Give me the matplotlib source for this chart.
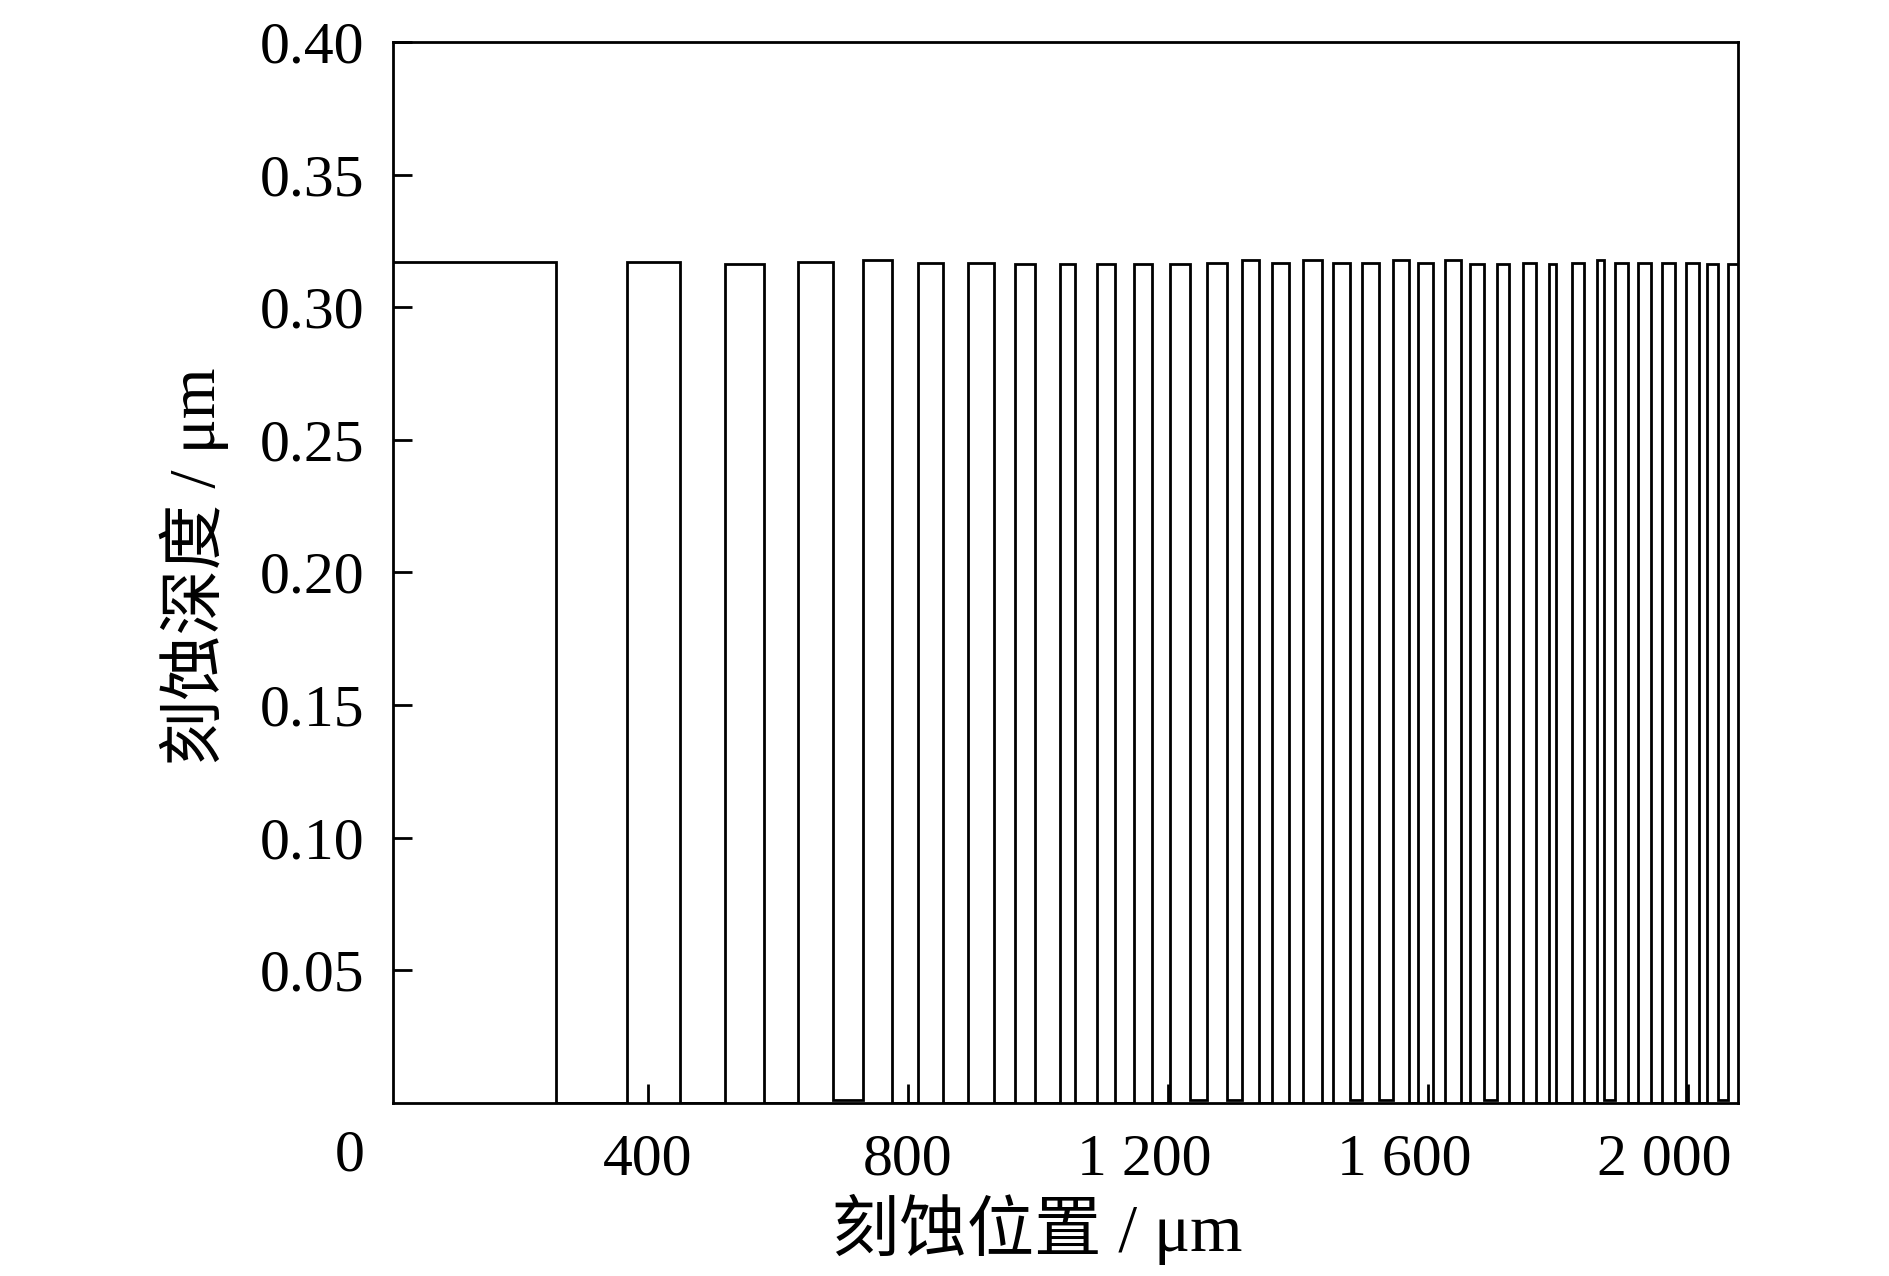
import numpy as np
import matplotlib
matplotlib.use('Agg')
import matplotlib.pyplot as plt
import matplotlib.transforms as mtransforms

plt.rcParams['font.family'] = ['Liberation Serif', 'Noto Sans CJK SC']
plt.rcParams['mathtext.fontset'] = 'stix'

# etched grooves: start / end position (um) and depth (um)
bar_start = [0, 368, 518, 631, 731, 816, 893, 964, 1034, 1090, 1147, 1203, 1260,
             1314, 1360, 1408, 1454, 1499, 1546, 1585, 1626, 1665, 1706, 1746,
             1786, 1822, 1860, 1888, 1923, 1960, 1996, 2029, 2062]
bar_end = [259, 450, 579, 684, 776, 854, 933, 996, 1057, 1119, 1176, 1233, 1291,
           1340, 1386, 1436, 1480, 1525, 1570, 1608, 1651, 1686, 1725, 1766,
           1797, 1840, 1870, 1908, 1943, 1979, 2016, 2046, 2095]
bar_depth = [0.317, 0.317, 0.3162, 0.317, 0.318, 0.3168, 0.3168, 0.3165, 0.3163,
             0.3163, 0.3163, 0.3165, 0.3168, 0.318, 0.3168, 0.318, 0.3168, 0.3168,
             0.318, 0.3168, 0.318, 0.3165, 0.3165, 0.3168, 0.3165, 0.3168, 0.318,
             0.3168, 0.3168, 0.3168, 0.3168, 0.3165, 0.3165]
# residual depth of the unetched ridge after each groove
gap_floor = [0, 0, 0, 0.0012, 0, 0, 0, 0, 0, 0, 0, 0.001, 0.001, 0, 0, 0, 0.001,
             0.001, 0, 0, 0, 0.001, 0, 0, 0, 0, 0.001, 0, 0, 0, 0, 0.001, 0]

xs = []
ys = []
prev_floor = bar_depth[0]
for i in range(len(bar_start)):
    xs += [bar_start[i], bar_start[i], bar_end[i], bar_end[i]]
    ys += [prev_floor, bar_depth[i], bar_depth[i], gap_floor[i]]
    prev_floor = gap_floor[i]

xticks = [400, 800, 1200, 1600, 2000]
xticklabels = ['400', '800', '1 200', '1 600', '2 000']
yticks = [0.05, 0.10, 0.15, 0.20, 0.25, 0.30, 0.35, 0.40]
yticklabels = ['0.05', '0.10', '0.15', '0.20', '0.25', '0.30', '0.35', '0.40']

fig = plt.figure(figsize=(18.9, 12.76), dpi=100)
ax = fig.add_axes([0.208, 0.1357, 0.7117, 0.8313])
ax.plot(xs, ys, color='black', lw=2.0, solid_joinstyle='miter')

ax.set_xlim(8, 2077)
ax.set_ylim(0, 0.40)
ax.set_xticks(xticks)
ax.set_xticklabels(xticklabels)
ax.set_yticks(yticks)
ax.set_yticklabels(yticklabels)
ax.tick_params(axis='both', direction='in', length=14, width=2.0, labelsize=43)
ax.tick_params(axis='x', pad=22)
ax.tick_params(axis='y', pad=21)
for s in ax.spines.values():
    s.set_linewidth(2.0)

# labels with a thousands space sit a little left of their tick in the original
shift = mtransforms.ScaledTranslation(-0.24, 0, fig.dpi_scale_trans)
for lab in ax.get_xticklabels():
    if ' ' in lab.get_text():
        lab.set_transform(lab.get_transform() + shift)

ax.text(-0.0326, -0.0506, '0', transform=ax.transAxes, fontsize=43,
        ha='center', va='center')

ax.set_xlabel('刻蚀位置 / μm', fontsize=48.5, va='center')
ax.xaxis.set_label_coords(0.479, -0.119)
ax.set_ylabel('刻蚀深度 / μm', fontsize=47, va='center', ha='center')
ax.yaxis.set_label_coords(-0.1476, 0.506)

fig.savefig('out.png', dpi=100)
